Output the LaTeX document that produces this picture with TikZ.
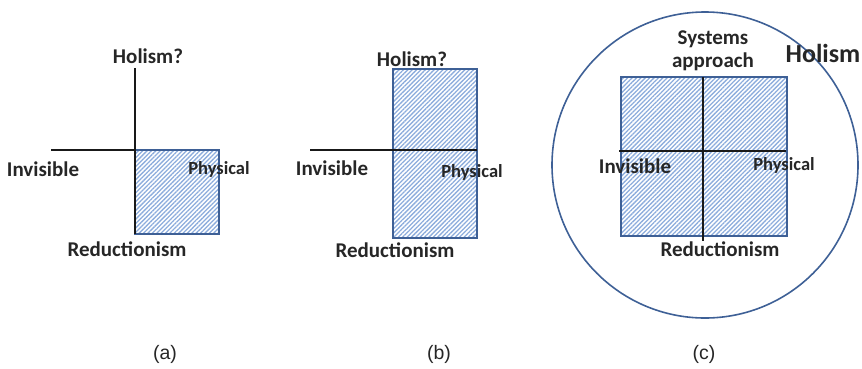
\documentclass[tikz,border=0pt]{standalone}
\usepackage{fontspec}
\setmainfont{Carlito}
\newfontfamily\capfont{Liberation Sans}
\usetikzlibrary{patterns.meta}
\definecolor{boxblue}{RGB}{62,96,150}
\definecolor{hatchblue}{RGB}{140,172,220}
\tikzset{
  hatchbox/.style={draw=boxblue, line width=2pt,
    pattern={Lines[angle=45,distance=3.1pt,line width=1.3pt]}, pattern color=hatchblue},
  axis/.style={draw=black!90, line width=2.4pt},
  lab/.style={font=\bfseries\fontsize{21}{23}\selectfont, text=black!85, inner sep=0pt},
  slab/.style={font=\bfseries\fontsize{18.5}{20}\selectfont, text=black!85, inner sep=0pt},
  captext/.style={font=\capfont\fontsize{19.5}{21}\selectfont, text=black!85, inner sep=0pt}
}
\begin{document}
\begin{tikzpicture}[x=1pt,y=-1pt]
\useasboundingbox (0,0) rectangle (862,368);
% (a)
\path[hatchbox] (135,150) rectangle (219,234);
\coordinate (aT) at (135,68);
\coordinate (aB) at (135,234);
\coordinate (aL) at (51,150);
\coordinate (aO) at (135,150);
\draw[axis] (aT) -- (aB);
\draw[axis] (aL) -- (aO);
\node[lab] (aHol) at (148,56) {Holism?};
\node[lab] (aInv) at (43,169) {Invisible};
\node[slab] (aPhy) at (219,169) {Physical};
\node[lab] (aRed) at (127,249) {Reductionism};
\node[captext] (aCap) at (165,354) {(a)};
% (b)
\path[hatchbox] (393,69) rectangle (477,238);
\coordinate (bL) at (310,150);
\coordinate (bR) at (477,150);
\draw[axis] (bL) -- (bR);
\node[lab] (bHol) at (412,59) {Holism?};
\node[lab] (bInv) at (332,168) {Invisible};
\node[slab] (bPhy) at (472,172) {Physical};
\node[lab] (bRed) at (395,250) {Reductionism};
\node[captext] (bCap) at (439,354) {(b)};
% (c)
\node[draw=boxblue, line width=1.6pt, circle, minimum size=306pt, inner sep=0pt] (circ) at (705,165) {};
\path[hatchbox] (621,77) rectangle (787,236);
\coordinate (cT) at (703,77);
\coordinate (cB) at (703,241);
\coordinate (cL) at (619,151);
\coordinate (cR) at (786,151);
\draw[axis] (cT) -- (cB);
\draw[axis] (cL) -- (cR);
\node[lab, align=center] (cSys) at (713,51) {Systems\\approach};
\node[font=\bfseries\fontsize{26}{28}\selectfont, text=black!85, inner sep=0pt] (cHol) at (823,53) {Holism};
\node[lab] (cInv) at (635,166) {Invisible};
\node[slab] (cPhy) at (784,165) {Physical};
\node[lab] (cRed) at (720,249) {Reductionism};
\node[captext] (cCap) at (704,354) {(c)};
\end{tikzpicture}
\end{document}
